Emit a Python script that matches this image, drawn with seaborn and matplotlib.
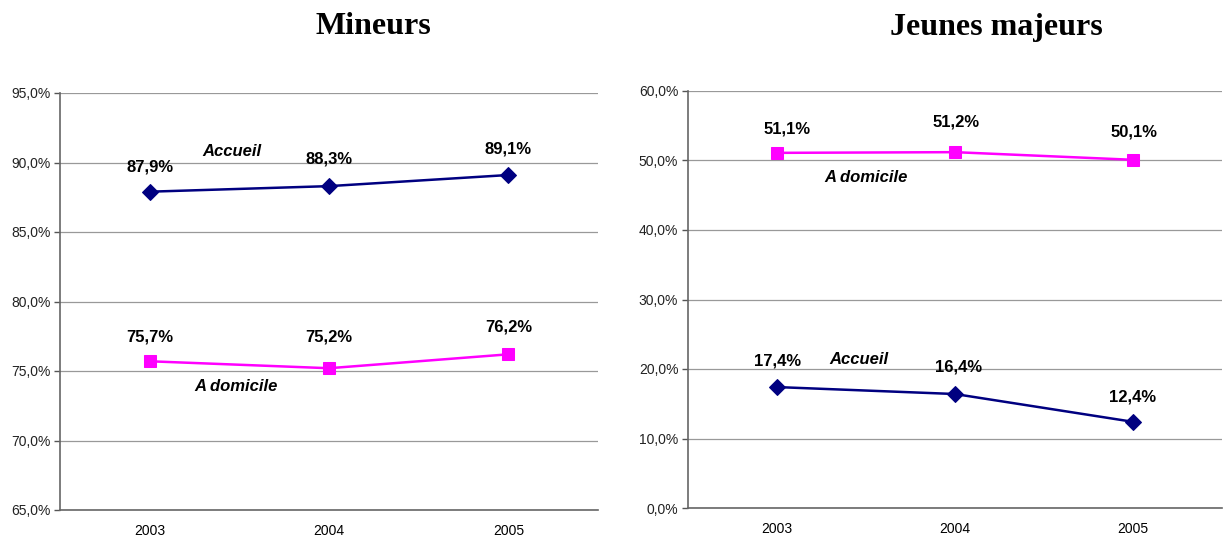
import matplotlib
matplotlib.use("Agg")
import matplotlib.pyplot as plt
import seaborn as sns
import pandas as pd
import numpy as np
from matplotlib.ticker import FixedLocator, FuncFormatter

years = ["2003", "2004", "2005"]
mineurs_accueil = [87.9, 88.3, 89.1]
mineurs_domicile = [75.7, 75.2, 76.2]
jeunes_accueil = [17.4, 16.4, 12.4]
jeunes_domicile = [51.1, 51.2, 50.1]

titles = ["Mineurs", "Jeunes majeurs"]
series_names = ["Accueil", "A domicile"]

NAVY = "#000080"
MAGENTA = "#FF00FF"

sns.set_style("white")
plt.rcParams["font.family"] = ["Liberation Sans", "DejaVu Sans"]
plt.rcParams["text.color"] = "black"

fig = plt.figure(figsize=(12.28, 5.36), dpi=100)
ax1 = fig.add_axes([60/1228, 26/536, 538/1228, 417/536])
ax2 = fig.add_axes([688/1228, 28/536, 534/1228, 417/536])

def fmt(v, pos=None):
    return f"{v:.1f}%".replace(".", ",")

def draw(ax, acc, dom, ylim, ystep, acc_offsets, dom_offsets, acc_lab, dom_lab):
    df = pd.DataFrame({"year": years * 2,
                       "value": acc + dom,
                       "serie": [series_names[0]] * 3 + [series_names[1]] * 3})
    for name, color, marker, ms in [(series_names[0], NAVY, "D", 8),
                                    (series_names[1], MAGENTA, "s", 9)]:
        sub = df[df.serie == name]
        sns.lineplot(data=sub, x="year", y="value", ax=ax, color=color,
                     marker=marker, markersize=ms, markeredgecolor=color,
                     linewidth=1.8, legend=False, zorder=3)
    ax.set_xlim(-0.5, 2.5)
    ax.set_ylim(*ylim)
    yt = np.arange(ylim[0], ylim[1] + 0.001, ystep)
    ax.yaxis.set_major_locator(FixedLocator(yt))
    ax.yaxis.set_major_formatter(FuncFormatter(fmt))
    ax.set_xticks([0, 1, 2])
    ax.set_xticklabels(years)
    ax.xaxis.set_minor_locator(FixedLocator([-0.5, 0.5, 1.5, 2.5]))
    ax.tick_params(axis="x", which="major", length=0, pad=10, labelsize=10, colors="#000000")
    ax.tick_params(axis="x", which="minor", length=4, width=1, color="#555555", direction="out")
    ax.tick_params(axis="y", which="major", length=4, width=1, color="#555555",
                   direction="out", labelsize=10, labelcolor="#222222", pad=3, left=True)
    ax.grid(axis="y", color="#999999", linewidth=0.9, zorder=0)
    ax.grid(axis="x", visible=False)
    for s in ["top", "right"]:
        ax.spines[s].set_visible(False)
    for s in ["left", "bottom"]:
        ax.spines[s].set_color("#666666")
        ax.spines[s].set_linewidth(1.2)
    ax.set_xlabel("")
    ax.set_ylabel("")
    for i, (v, off) in enumerate(zip(acc, acc_offsets)):
        ax.annotate(fmt(v), (i, v), xytext=off, textcoords="offset pixels",
                    ha="center", va="center", fontsize=12, fontweight="bold")
    for i, (v, off) in enumerate(zip(dom, dom_offsets)):
        ax.annotate(fmt(v), (i, v), xytext=off, textcoords="offset pixels",
                    ha="center", va="center", fontsize=12, fontweight="bold")
    ax.text(acc_lab[0], acc_lab[1], series_names[0], ha="center", va="center",
            fontsize=12, fontweight="bold", fontstyle="italic")
    ax.text(dom_lab[0], dom_lab[1], series_names[1], ha="center", va="center",
            fontsize=12, fontweight="bold", fontstyle="italic")

draw(ax1, mineurs_accueil, mineurs_domicile, (65, 95), 5,
     [(0, 25), (0, 27), (0, 26)], [(0, 24), (0, 31), (0, 27)],
     (0.46, 90.76), (0.48, 73.85))
draw(ax2, jeunes_accueil, jeunes_domicile, (0, 60), 10,
     [(1, 26), (4, 27), (0, 25)], [(10, 24), (1, 30), (1, 28)],
     (0.46, 21.3), (0.5, 47.6))

fig.text(373/1228, 1 - 27/536, titles[0], ha="center", va="center",
         fontsize=23, fontweight="bold", family=["Liberation Serif", "DejaVu Serif"])
fig.text(996/1228, 1 - 27/536, titles[1], ha="center", va="center",
         fontsize=23, fontweight="bold", family=["Liberation Serif", "DejaVu Serif"])

fig.savefig("out.png", dpi=100)
